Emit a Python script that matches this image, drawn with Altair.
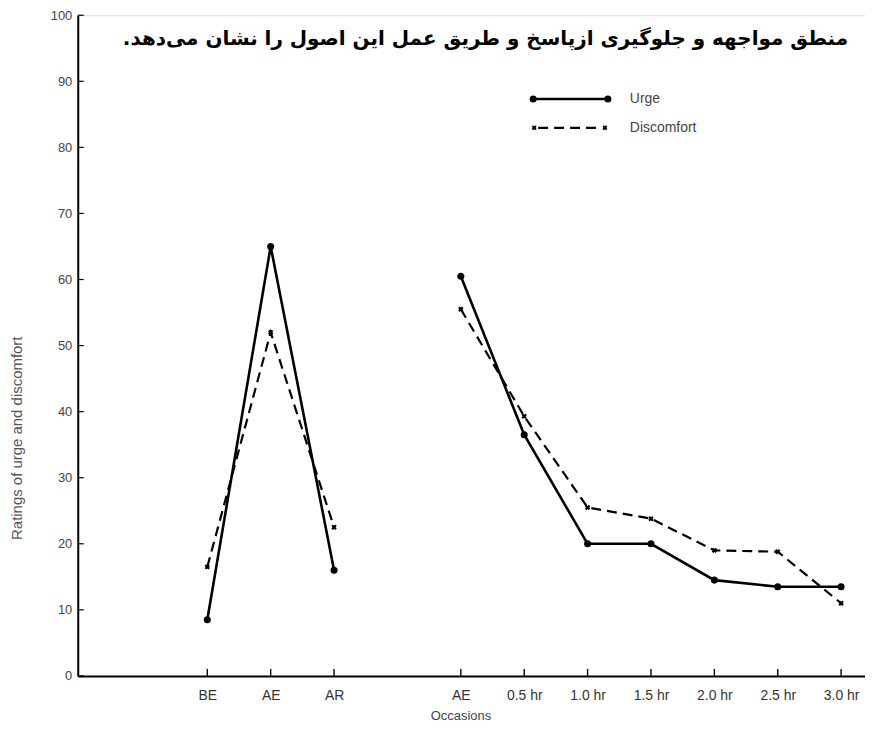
import altair as alt
import pandas as pd

# ---- data ----
occasion_labels = ["BE", "AE", "AR", "AE", "0.5 hr", "1.0 hr", "1.5 hr", "2.0 hr", "2.5 hr", "3.0 hr"]
occasion_pos = [0, 1, 2, 4, 5, 6, 7, 8, 9, 10]
phase = ["ritual", "ritual", "ritual", "prevention", "prevention", "prevention",
         "prevention", "prevention", "prevention", "prevention"]
urge = [8.5, 65, 16, 60.5, 36.5, 20, 20, 14.5, 13.5, 13.5]
discomfort = [16.5, 52, 22.5, 55.5, 39.3, 25.5, 23.8, 19, 18.8, 11]
y_ticks = list(range(0, 101, 10))
series_names = ["Urge", "Discomfort"]
heading = "منطق مواجهه و جلوگیری ازپاسخ و طریق عمل این اصول را نشان می\u200cدهد.\u200f"
y_title = "Ratings of urge and discomfort"
x_title = "Occasions"

W, H = 790, 663
FONT = "Liberation Sans"

df = pd.DataFrame({"pos": occasion_pos, "label": occasion_labels, "phase": phase,
                   "urge": urge, "discomfort": discomfort})
ticks_df = pd.DataFrame({"v": y_ticks})
xt_df = pd.DataFrame({"pos": occasion_pos})

label_map = "{" + ",".join(f"'{p}':'{l}'" for p, l in zip(occasion_pos, occasion_labels)) + "}"

xscale = alt.Scale(domain=[-2.044, 10.377], nice=False, zero=False)
yscale = alt.Scale(domain=[0, 100], nice=False)

x_enc = alt.X("pos:Q", scale=xscale,
              axis=alt.Axis(values=occasion_pos, labelExpr=f"{label_map}[datum.value]",
                            ticks=False, grid=False, domainColor="black", domainWidth=2,
                            labelFont=FONT, labelFontSize=14, labelColor="#333",
                            labelPadding=13, labelFlush=False, labelOverlap=False,
                            title=x_title, titleFont=FONT, titleFontSize=13,
                            titleFontWeight="normal", titleColor="#444",
                            titleX=384, titleY=34, titleBaseline="top"))
y_enc = alt.Y("urge:Q", scale=yscale,
              axis=alt.Axis(values=y_ticks, ticks=False, grid=False, domainColor="black",
                            domainWidth=2, labelFont=FONT, labelFontSize=13,
                            labelColor="#444", labelPadding=6,
                            title=y_title, titleFont=FONT, titleFontSize=15,
                            titleFontWeight="normal", titleColor="#555",
                            titleAngle=270, titleX=-61, titleY=424,
                            titleAlign="center", titleBaseline="middle"))

base = alt.Chart(df)

urge_line = base.mark_line(color="black", strokeWidth=2.6).encode(
    x=x_enc, y=y_enc, detail="phase:N")
urge_pts = base.mark_point(filled=True, color="black", size=50, opacity=1).encode(
    x="pos:Q", y="urge:Q")
disc_line = base.mark_line(color="black", strokeWidth=2.2, strokeDash=[10, 6]).encode(
    x="pos:Q", y=alt.Y("discomfort:Q", scale=yscale), detail="phase:N")
disc_pts = base.mark_point(shape="cross", angle=45, filled=True, color="black",
                           size=30, opacity=1).encode(
    x="pos:Q", y=alt.Y("discomfort:Q", scale=yscale))

ytick_marks = alt.Chart(ticks_df).mark_rule(color="black", strokeWidth=1.2).encode(
    y=alt.Y("v:Q", scale=yscale), x=alt.value(0), x2=alt.value(6))
xtick_marks = alt.Chart(xt_df).mark_rule(color="black", strokeWidth=1.4).encode(
    x=alt.X("pos:Q", scale=xscale), y=alt.value(H), y2=alt.value(H - 7))

one = pd.DataFrame({"k": [0]})
leg = alt.Chart(one)
leg_urge_line = leg.mark_rule(color="black", strokeWidth=2.6).encode(
    x=alt.value(457), x2=alt.value(532), y=alt.value(84))
leg_urge_pts = alt.layer(
    leg.mark_point(filled=True, color="black", size=50, opacity=1).encode(
        x=alt.value(457), y=alt.value(84)),
    leg.mark_point(filled=True, color="black", size=50, opacity=1).encode(
        x=alt.value(532), y=alt.value(84)))
leg_disc_line = leg.mark_rule(color="black", strokeWidth=2.2, strokeDash=[10, 6]).encode(
    x=alt.value(462), x2=alt.value(526), y=alt.value(113))
leg_disc_pts = alt.layer(
    leg.mark_point(shape="cross", angle=45, filled=True, color="black", size=25, opacity=1).encode(
        x=alt.value(458), y=alt.value(113)),
    leg.mark_point(shape="cross", angle=45, filled=True, color="black", size=25, opacity=1).encode(
        x=alt.value(529), y=alt.value(113)))
leg_text = alt.layer(
    leg.mark_text(align="left", baseline="middle", font=FONT, fontSize=14, color="#444",
                  text=series_names[0]).encode(x=alt.value(554), y=alt.value(84)),
    leg.mark_text(align="left", baseline="middle", font=FONT, fontSize=14, color="#444",
                  text=series_names[1]).encode(x=alt.value(554), y=alt.value(113)))

head = leg.mark_text(align="right", baseline="middle", font="DejaVu Sans", fontSize=20,
                     fontWeight="bold", color="black", text=heading).encode(
    x=alt.value(773), y=alt.value(24))

chart = alt.layer(
    urge_line, disc_line, urge_pts, disc_pts, ytick_marks, xtick_marks,
    leg_urge_line, leg_urge_pts, leg_disc_line, leg_disc_pts, leg_text, head
).properties(
    width=W, height=H,
    autosize=alt.AutoSizeParams(type="none"),
    padding={"left": 70, "top": 6, "right": 0, "bottom": 50},
).configure_view(stroke=None).configure(background="white")

chart.save("out.html", embed_options={"renderer": "svg", "actions": False})
